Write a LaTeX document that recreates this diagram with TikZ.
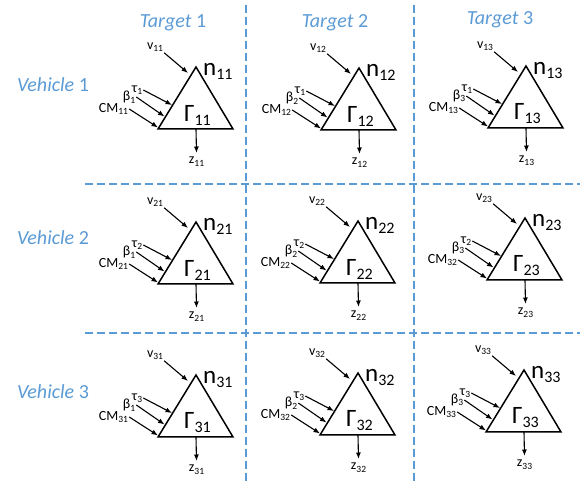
\documentclass[tikz,border=0pt]{standalone}
\usepackage{fontspec}
\setmainfont{Carlito}
\usetikzlibrary{arrows.meta}
\definecolor{gridblue}{HTML}{5B9BD5}
\newcommand\slab[2]{\fontsize{14}{14}\selectfont #1\raisebox{-2.5pt}{\fontsize{9.5}{9.5}\selectfont #2}}
\newcommand\blab[2]{\fontsize{25}{25}\selectfont #1\raisebox{-4pt}{\fontsize{16}{16}\selectfont #2}}
\tikzset{
  gridline/.style={gridblue, line width=1.1pt, dash pattern=on 8pt off 4pt},
  head/.style={font=\fontsize{20}{20}\selectfont, text=gridblue, inner sep=0pt},
  gain/.style={draw, line width=1.5pt, line join=miter},
  inarrow/.style={line width=1.1pt, -{Latex[length=6.5pt,width=5pt]}},
  lab/.style={inner sep=1pt},
}
% #1 x, #2 y, #3 ij, #4 tau index, #5 beta index, #6 CM index
\newcommand\mycell[6]{%
\begin{scope}[shift={(#1,#2)}]
  \coordinate (L#3) at (0,0);
  \coordinate (A#3) at (38,-62);
  \coordinate (R#3) at (75,0);
  \draw[gain] (L#3) -- (A#3) -- (R#3) -- cycle;
  \node[lab] (G#3) at (39.5,-14) {\blab{Γ}{#3}};
  \node[lab,anchor=west] (N#3) at (44,-58) {\blab{n}{#3}};
  \coordinate (ZB#3) at (38,0);
  \node[lab,anchor=north] (Z#3) at (38.5,27) {\slab{z}{#3}};
  \draw[inarrow] (ZB#3) -- ([yshift=3pt]Z#3.north);
  \node[lab] (V#3) at (-3,-82) {\slab{v}{#3}};
  \coordinate (VE#3) at (30,-56);
  \draw[inarrow] (V#3.south east) -- (VE#3);
  \node[lab] (T#3) at (-21,-39) {\slab{τ}{#4}};
  \coordinate (TE#3) at (14,-24);
  \draw[inarrow] (T#3.east) -- (TE#3);
  \node[lab] (B#3) at (-29,-32) {\slab{β}{#5}};
  \coordinate (BE#3) at (6.5,-12.5);
  \draw[inarrow] (B#3.east) -- (BE#3);
  \node[lab] (C#3) at (-44.5,-20) {\slab{CM}{#6}};
  \coordinate (CE#3) at (0,-1.5);
  \draw[inarrow] (C#3.east) -- (CE#3);
\end{scope}}
\begin{document}
\begin{tikzpicture}[x=1pt,y=-1pt]
  \useasboundingbox (0,0) rectangle (582,481);
  % grid
  \coordinate (h1a) at (85,184);  \coordinate (h1b) at (580,184);
  \coordinate (h2a) at (85,333);  \coordinate (h2b) at (580,333);
  \coordinate (v1a) at (246,5);   \coordinate (v1b) at (246,481);
  \coordinate (v2a) at (414,5);   \coordinate (v2b) at (414,481);
  \draw[gridline] (h1a) -- (h1b);
  \draw[gridline] (h2a) -- (h2b);
  \draw[gridline] (v1a) -- (v1b);
  \draw[gridline] (v2a) -- (v2b);
  % headers
  \node[head] (tg1) at (173,23) {\textit{Target} 1};
  \node[head] (tg2) at (335,23) {\textit{Target} 2};
  \node[head] (tg3) at (500,20) {\textit{Target} 3};
  \node[head] (vh1) at (53,85)  {\textit{Vehicle} 1};
  \node[head] (vh2) at (53,238) {\textit{Vehicle} 2};
  \node[head] (vh3) at (53,392) {\textit{Vehicle} 3};
  % cells
  \mycell{158}{129}{11}{1}{1}{11}
  \mycell{321}{130}{12}{1}{2}{12}
  \mycell{488}{128}{13}{1}{3}{13}
  \mycell{158}{284}{21}{2}{1}{21}
  \mycell{320}{283}{22}{2}{2}{22}
  \mycell{487}{280}{23}{2}{3}{32}
  \mycell{158}{437}{31}{3}{1}{31}
  \mycell{320}{435}{32}{3}{2}{32}
  \mycell{486}{432}{33}{3}{3}{33}
\end{tikzpicture}
\end{document}
